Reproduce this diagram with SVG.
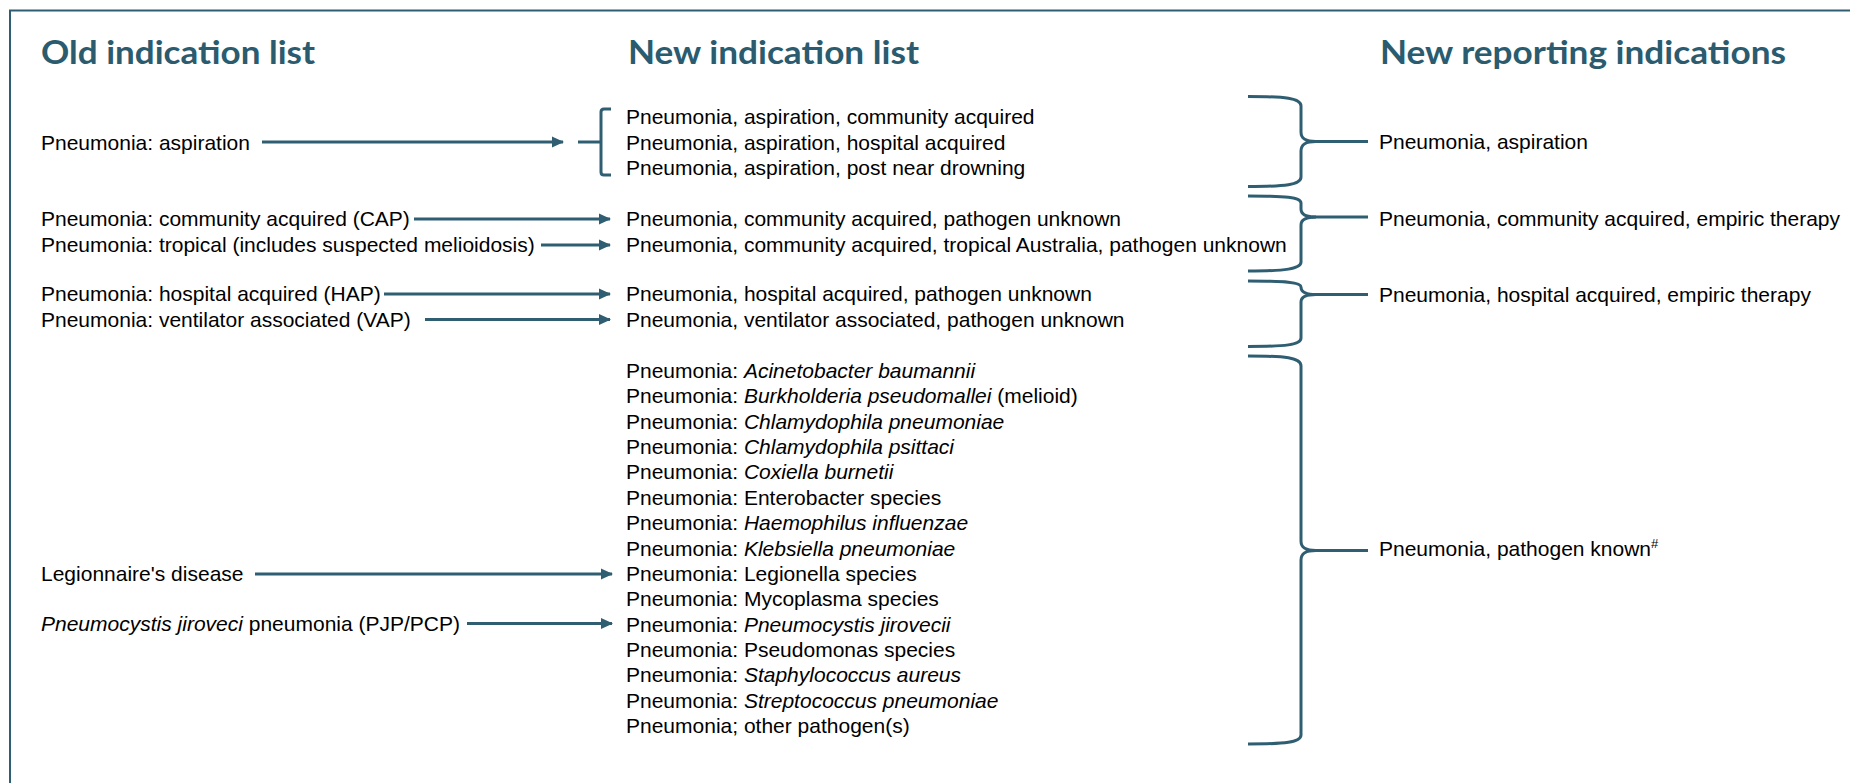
<svg xmlns="http://www.w3.org/2000/svg" width="1850" height="783" viewBox="0 0 1850 783">
<style>
.t{font-family:"Liberation Sans",Arial,sans-serif;font-size:21px;fill:#000}
.h{font-family:Lato,"Open Sans",sans-serif;font-weight:700;font-size:32px;fill:#2b5b6e}
.c{fill:none;stroke:#2f5e72;stroke-width:3}
.a{fill:none;stroke:#2f5e72;stroke-width:3;marker-end:url(#ah)}
.i{font-style:italic}
</style>
<defs>
<marker id="ah" viewBox="0 0 12 12" refX="11" refY="6" markerWidth="12" markerHeight="12" markerUnits="userSpaceOnUse" orient="auto">
<path d="M0,0.5 L12,6 L0,11.5 Z" fill="#2f5e72"/>
</marker>
</defs>
<rect width="1850" height="783" fill="#fff"/>
<path d="M10,783 V10.5 H1850" fill="none" stroke="#2f5e72" stroke-width="2"/>

<g id="headers">
<text class="h" x="41" y="64" textLength="274" lengthAdjust="spacingAndGlyphs">Old indication list</text>
<text class="h" x="628" y="64" textLength="291" lengthAdjust="spacingAndGlyphs">New indication list</text>
<text class="h" x="1380" y="64" textLength="406" lengthAdjust="spacingAndGlyphs">New reporting indications</text>
</g>

<g id="old-list">
<g id="old-aspiration"><text class="t" x="41" y="149.5">Pneumonia: aspiration</text></g>
<g id="old-cap"><text class="t" x="41" y="226">Pneumonia: community acquired (CAP)</text></g>
<g id="old-tropical"><text class="t" x="41" y="252">Pneumonia: tropical (includes suspected melioidosis)</text></g>
<g id="old-hap"><text class="t" x="41" y="301">Pneumonia: hospital acquired (HAP)</text></g>
<g id="old-vap"><text class="t" x="41" y="326.5">Pneumonia: ventilator associated (VAP)</text></g>
<g id="old-legionnaire"><text class="t" x="41" y="581">Legionnaire's disease</text></g>
<g id="old-pjp"><text class="t" x="41" y="631"><tspan class="i">Pneumocystis jiroveci</tspan> pneumonia (PJP/PCP)</text></g>
</g>

<g id="new-list">
<g id="new-aspiration">
<text class="t" x="626" y="124">Pneumonia, aspiration, community acquired</text>
<text class="t" x="626" y="149.5">Pneumonia, aspiration, hospital acquired</text>
<text class="t" x="626" y="175">Pneumonia, aspiration, post near drowning</text>
</g>
<g id="new-cap"><text class="t" x="626" y="226">Pneumonia, community acquired, pathogen unknown</text></g>
<g id="new-tropical"><text class="t" x="626" y="252">Pneumonia, community acquired, tropical Australia, pathogen unknown</text></g>
<g id="new-hap"><text class="t" x="626" y="301">Pneumonia, hospital acquired, pathogen unknown</text></g>
<g id="new-vap"><text class="t" x="626" y="326.5">Pneumonia, ventilator associated, pathogen unknown</text></g>
<g id="new-pathogens">
<text class="t" x="626" y="378">Pneumonia: <tspan class="i">Acinetobacter baumannii</tspan></text>
<text class="t" x="626" y="403.4">Pneumonia: <tspan class="i">Burkholderia pseudomallei</tspan> (melioid)</text>
<text class="t" x="626" y="428.7">Pneumonia: <tspan class="i">Chlamydophila pneumoniae</tspan></text>
<text class="t" x="626" y="454.1">Pneumonia: <tspan class="i">Chlamydophila psittaci</tspan></text>
<text class="t" x="626" y="479.4">Pneumonia: <tspan class="i">Coxiella burnetii</tspan></text>
<text class="t" x="626" y="504.8">Pneumonia: Enterobacter species</text>
<text class="t" x="626" y="530.2">Pneumonia: <tspan class="i">Haemophilus influenzae</tspan></text>
<text class="t" x="626" y="555.5">Pneumonia: <tspan class="i">Klebsiella pneumoniae</tspan></text>
<text class="t" x="626" y="580.9">Pneumonia: Legionella species</text>
<text class="t" x="626" y="606.2">Pneumonia: Mycoplasma species</text>
<text class="t" x="626" y="631.6">Pneumonia: <tspan class="i">Pneumocystis jirovecii</tspan></text>
<text class="t" x="626" y="657">Pneumonia: Pseudomonas species</text>
<text class="t" x="626" y="682.3">Pneumonia: <tspan class="i">Staphylococcus aureus</tspan></text>
<text class="t" x="626" y="707.7">Pneumonia: <tspan class="i">Streptococcus pneumoniae</tspan></text>
<text class="t" x="626" y="733">Pneumonia; other pathogen(s)</text>
</g>
</g>

<g id="reporting-list">
<g id="rep-aspiration"><text class="t" x="1379" y="149">Pneumonia, aspiration</text></g>
<g id="rep-cap"><text class="t" x="1379" y="225.5">Pneumonia, community acquired, empiric therapy</text></g>
<g id="rep-hap"><text class="t" x="1379" y="302">Pneumonia, hospital acquired, empiric therapy</text></g>
<g id="rep-known"><text class="t" x="1379" y="556">Pneumonia, pathogen known<tspan font-size="13" dy="-8">#</tspan></text></g>
</g>

<g id="connectors">
<path class="a" d="M262,142 H563"/>
<path class="a" d="M414,219 H610"/>
<path class="a" d="M541,245 H610"/>
<path class="a" d="M384,294 H610"/>
<path class="a" d="M425,319.5 H610"/>
<path class="a" d="M255,574 H612"/>
<path class="a" d="M467,623.5 H612"/>
<path class="c" d="M578,142 H601"/>
<path class="c" d="M611,109 H604 Q601,109 601,112 V172 Q601,175 604,175 H611"/>
<path class="c" d="M1248,96.5 C1285,96.5 1301,98 1301,106 V132 C1301,139 1306,141.5 1316,141.5 C1306,141.5 1301,144 1301,151 V177 C1301,185 1285,186.5 1248,186.5"/>
<path class="c" d="M1312,141.5 H1368"/>
<path class="c" d="M1248,196 C1285,196 1301,197 1301,203 V209 C1301,214.5 1306,217 1316,217 C1306,217 1301,219.5 1301,225 V262 C1301,269 1285,271 1248,271"/>
<path class="c" d="M1312,217 H1368"/>
<path class="c" d="M1248,281 C1285,281 1301,282 1301,287 C1301,292 1305,294.5 1316,294.5 C1305,294.5 1301,297 1301,302 V338 C1301,345 1285,346.5 1248,346.5"/>
<path class="c" d="M1312,294.5 H1368"/>
<path class="c" d="M1248,356 C1285,356 1301,357.5 1301,366 V541 C1301,548 1306,550.5 1316,550.5 C1306,550.5 1301,553 1301,560 V735 C1301,742.5 1285,744 1248,744"/>
<path class="c" d="M1312,550.5 H1368"/>
</g>
</svg>
